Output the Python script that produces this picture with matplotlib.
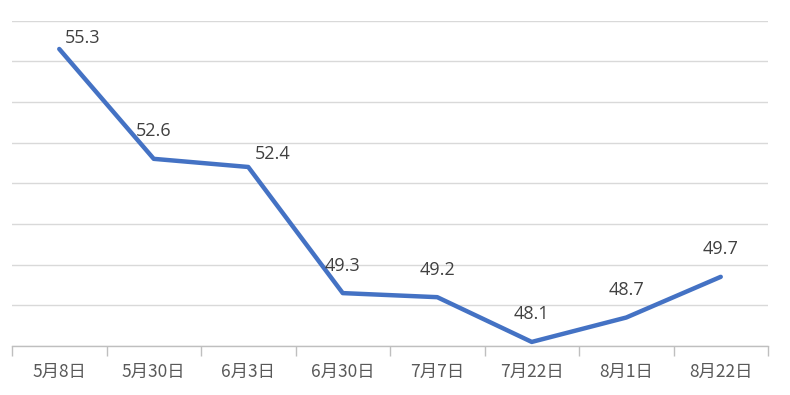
import matplotlib
matplotlib.use("Agg")
import matplotlib.pyplot as plt
import numpy as np

categories = ["5月8日", "5月30日", "6月3日", "6月30日", "7月7日", "7月22日", "8月1日", "8月22日"]
values = [55.3, 52.6, 52.4, 49.3, 49.2, 48.1, 48.7, 49.7]

label_offsets = [(23, 11), (0, 28), (24, 13), (0, 27), (0, 27), (0, 28), (0, 28), (0, 28)]

plt.rcParams['font.family'] = ['Noto Sans CJK SC', 'DejaVu Sans']

fig = plt.figure(figsize=(7.9, 3.95), dpi=100)
ax = fig.add_axes([12/790, 49/395, 756/790, 325.5/395])

x = np.arange(len(categories))
ax.plot(x, values, color='#4472C4', linewidth=3.2, solid_joinstyle='round', solid_capstyle='round', zorder=3)

for xi, v, (dx, dy) in zip(x, values, label_offsets):
    ax.annotate(f"{v:.1f}", (xi, v), xytext=(dx, dy), textcoords='offset pixels',
                ha='center', va='center', fontsize=13, color='#404040',
                family=['Open Sans', 'DejaVu Sans'])

ax.set_xlim(-0.5, len(categories) - 0.5)
ax.set_ylim(48, 56)
ax.set_yticks(np.arange(48, 56.01, 1))
ax.yaxis.grid(True, color='#D9D9D9', linewidth=1.0)
ax.set_axisbelow(True)
ax.tick_params(axis='y', left=False, labelleft=False)

ax.set_xticks(x)
ax.set_xticklabels(categories, fontsize=12.5, color='#595959')
ax.set_xticks(np.arange(-0.5, len(categories), 1), minor=True)
ax.tick_params(axis='x', which='major', length=0, pad=12)
ax.tick_params(axis='x', which='minor', length=7, color='#BFBFBF', width=1)

for s in ['top', 'right', 'left']:
    ax.spines[s].set_visible(False)
ax.spines['bottom'].set_color('#BFBFBF')
ax.spines['bottom'].set_linewidth(1.0)

fig.savefig('out.png', dpi=100)
